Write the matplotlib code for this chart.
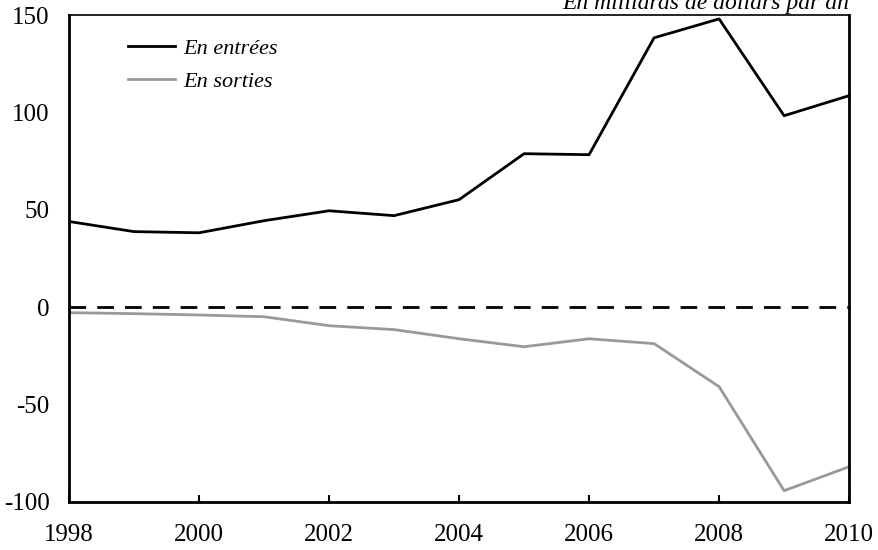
import matplotlib.pyplot as plt

years = [1998, 1999, 2000, 2001, 2002, 2003, 2004, 2005, 2006, 2007, 2008, 2009, 2010]
entrees = [44, 38.8, 38.2, 44.4, 49.5, 47, 55.2, 78.8, 78.3, 138.3, 148, 98.3, 108.6]
sorties = [-2.8, -3.3, -4, -4.9, -9.5, -11.5, -16.2, -20.3, -16.2, -18.7, -40.8, -94.2, -81.9]
x_ticks = [1998, 2000, 2002, 2004, 2006, 2008, 2010]
y_ticks = [-100, -50, 0, 50, 100, 150]

plt.rcParams['font.family'] = ['Liberation Serif', 'DejaVu Serif']
plt.rcParams['axes.unicode_minus'] = False

fig = plt.figure(figsize=(8.79, 5.5), dpi=100)
ax = fig.add_axes([0.0785, 0.0873, 0.8875, 0.8854])

ax.plot(years, entrees, color='black', lw=2, label='En entrées')
ax.plot(years, sorties, color='#999999', lw=2, label='En sorties')
ax.axhline(0, color='black', lw=2, dashes=(6, 4))

ax.set_xlim(1998, 2010)
ax.set_ylim(-100, 150)
ax.set_xticks(x_ticks)
ax.set_yticks(y_ticks)
ax.tick_params(axis='x', direction='in', length=5, width=1.5, labelsize=18, pad=16)
ax.tick_params(axis='y', length=0, labelsize=18, pad=14)

for side in ['left', 'bottom', 'right']:
    ax.spines[side].set_linewidth(2)
ax.spines['top'].set_linewidth(1.2)

leg = ax.legend(loc='upper left', bbox_to_anchor=(0.05, 0.993), frameon=False,
                prop={'style': 'italic', 'size': 16}, handlelength=2.1,
                handletextpad=0.4, labelspacing=0.55)

fig.text(0.966, 1.012, 'En milliards de dollars par an', ha='right', va='top',
         fontsize=17, style='italic')

plt.savefig('out.png')
